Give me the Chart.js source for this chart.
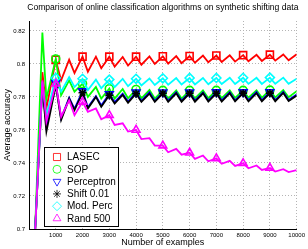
<!DOCTYPE html>
<html><head><meta charset="utf-8">
<script src="https://cdn.jsdelivr.net/npm/chart.js@4/dist/chart.umd.min.js"></script>
<style>html,body{margin:0;padding:0;background:#fff;overflow:hidden}#wrap{width:308px;height:249px}</style>
</head><body><div id="wrap"><canvas id="c" width="308" height="249"></canvas></div>
<script>
const TITLE = 'Comparison of online classification algorithms on synthetic shifting data';
const X_LABEL = 'Number of examples';
const Y_LABEL = 'Average accuracy';
const X_TICKS = [1000, 2000, 3000, 4000, 5000, 6000, 7000, 8000, 9000, 10000];
const Y_TICKS = [0.7, 0.72, 0.74, 0.76, 0.78, 0.8, 0.82];
const SERIES_NAMES = ['LASEC', 'SOP', 'Perceptron', 'Shift 0.01', 'Mod. Perc', 'Rand 500'];

const EXAMPLES = [100, 500, 650, 1000, 1200, 1500, 1700, 2000, 2200, 2500, 2700, 3000, 3200, 3500, 3700, 4000, 4200, 4500, 4700, 5000, 5200, 5500, 5700, 6000, 6200, 6500, 6700, 7000, 7200, 7500, 7700, 8000, 8200, 8500, 8700, 9000, 9200, 9500, 9700, 10000];

const LASEC = [0.654, 0.795, 0.773, 0.8025, 0.790, 0.8025, 0.7945, 0.8044, 0.7953, 0.8044, 0.7974, 0.8044, 0.7984, 0.8042, 0.7990, 0.8044, 0.7995, 0.8045, 0.8000, 0.8046, 0.8002, 0.8047, 0.8005, 0.8048, 0.8007, 0.8050, 0.8010, 0.8051, 0.8012, 0.8052, 0.8014, 0.8053, 0.8016, 0.8055, 0.8018, 0.8056, 0.8020, 0.8057, 0.8022, 0.8058];
const SOP = [0.643, 0.819, 0.779, 0.803, 0.781, 0.790, 0.7832, 0.788, 0.780, 0.786, 0.779, 0.785, 0.779, 0.7848, 0.7792, 0.7845, 0.7792, 0.7842, 0.7790, 0.7840, 0.7790, 0.7840, 0.7790, 0.7840, 0.7791, 0.7840, 0.7792, 0.7840, 0.7793, 0.7840, 0.7794, 0.7840, 0.7795, 0.7840, 0.7796, 0.7841, 0.7797, 0.7841, 0.7798, 0.7835];
const PERCEPTRON = [0.657, 0.788, 0.762, 0.7885, 0.767, 0.7795, 0.7728, 0.7835, 0.7738, 0.7805, 0.7748, 0.7818, 0.7768, 0.7820, 0.7772, 0.7828, 0.7776, 0.7828, 0.7776, 0.7828, 0.7777, 0.7828, 0.7777, 0.7828, 0.7778, 0.7828, 0.7778, 0.7829, 0.7779, 0.7829, 0.7779, 0.7829, 0.7780, 0.7830, 0.7780, 0.7830, 0.7781, 0.7830, 0.7781, 0.7815];
const SHIFT = [0.658, 0.786, 0.759, 0.787, 0.766, 0.779, 0.772, 0.7825, 0.773, 0.780, 0.774, 0.781, 0.776, 0.7812, 0.7765, 0.7820, 0.7770, 0.7820, 0.7770, 0.7822, 0.7770, 0.7822, 0.7771, 0.7822, 0.7771, 0.7822, 0.7772, 0.7822, 0.7772, 0.7823, 0.7773, 0.7823, 0.7773, 0.7823, 0.7774, 0.7823, 0.7774, 0.7824, 0.7775, 0.7808];
const MOD_PERC = [0.657, 0.789, 0.769, 0.7915, 0.7832, 0.7920, 0.786, 0.7910, 0.7842, 0.7905, 0.7853, 0.7905, 0.786, 0.7910, 0.7865, 0.7910, 0.7870, 0.7912, 0.7872, 0.7913, 0.7874, 0.7914, 0.7875, 0.7915, 0.7876, 0.7915, 0.7877, 0.7915, 0.7878, 0.7916, 0.7878, 0.7916, 0.7879, 0.7916, 0.7879, 0.7917, 0.7880, 0.7917, 0.7880, 0.7910];
const RAND500 = [0.655, 0.790, 0.765, 0.788, 0.768, 0.778, 0.769, 0.777, 0.771, 0.773, 0.7665, 0.769, 0.763, 0.764, 0.759, 0.760, 0.7545, 0.7550, 0.7505, 0.7505, 0.7465, 0.7485, 0.7450, 0.7462, 0.7425, 0.7445, 0.7410, 0.7428, 0.7395, 0.7413, 0.7382, 0.7398, 0.7368, 0.7385, 0.7358, 0.7370, 0.7348, 0.7362, 0.7345, 0.7356];

const FONT = '"Liberation Sans", Arial, Helvetica, sans-serif';
const STYLES = [
  {color: '#ff0000', point: 'rect', radius: 5, rot: 0},
  {color: '#00ff00', point: 'circle', radius: 4, rot: 0},
  {color: '#0000ff', point: 'triangle', radius: 4.5, rot: 180},
  {color: '#000000', point: 'star', radius: 4, rot: 0},
  {color: '#00ffff', point: 'rectRot', radius: 4.5, rot: 0},
  {color: '#ff00ff', point: 'triangle', radius: 4.5, rot: 0}
];
const VALUES = [LASEC, SOP, PERCEPTRON, SHIFT, MOD_PERC, RAND500];

const datasets = VALUES.map((vals, k) => ({
  label: SERIES_NAMES[k],
  data: EXAMPLES.map((x, i) => ({x: x, y: vals[i]})),
  borderColor: STYLES[k].color,
  backgroundColor: 'rgba(0,0,0,0)',
  borderWidth: 1.8,
  tension: 0,
  order: VALUES.length - k,
  pointStyle: STYLES[k].point,
  pointRotation: STYLES[k].rot,
  pointBorderColor: STYLES[k].color,
  pointBackgroundColor: 'rgba(0,0,0,0)',
  pointBorderWidth: 1.6,
  pointRadius: (ctx) => {
    const x = EXAMPLES[ctx.dataIndex];
    return (x % 1000 === 0 && x < 10000) ? STYLES[k].radius : 0;
  },
  pointHoverRadius: 0
}));

function drawMarker(ctx, st, x, y) {
  if (Chart.helpers && Chart.helpers.drawPoint) {
    ctx.save();
    ctx.strokeStyle = st.color; ctx.fillStyle = 'rgba(0,0,0,0)'; ctx.lineWidth = 0.8;
    Chart.helpers.drawPoint(ctx, {pointStyle: st.point, radius: st.radius, rotation: st.rot, borderWidth: 0.8}, x, y);
    ctx.restore();
  }
}

const overlay = {
  id: 'overlay',
  afterDraw(chart) {
    const ctx = chart.ctx, a = chart.chartArea;
    ctx.save();
    ctx.fillStyle = '#000';
    ctx.textAlign = 'center'; ctx.textBaseline = 'middle';
    ctx.font = '8.6px ' + FONT;
    ctx.fillText(TITLE, (a.left + a.right) / 2, 8);
    ctx.font = '9px ' + FONT;
    ctx.fillText(X_LABEL, (a.left + a.right) / 2, 243);
    ctx.save();
    ctx.translate(8, (a.top + a.bottom) / 2);
    ctx.rotate(-Math.PI / 2);
    ctx.fillText(Y_LABEL, 0, 0);
    ctx.restore();
    // legend
    const lx = 44, ly = 147, lw = 74, lh = 79;
    ctx.fillStyle = '#fff';
    ctx.fillRect(lx, ly, lw, lh);
    ctx.strokeStyle = '#000'; ctx.lineWidth = 1;
    ctx.strokeRect(lx + 0.5, ly + 0.5, lw, lh);
    ctx.font = '10px ' + FONT;
    ctx.textAlign = 'left';
    SERIES_NAMES.forEach((name, i) => {
      const yy = 157 + i * 12.3;
      drawMarker(ctx, STYLES[i], 57, yy);
      ctx.fillStyle = '#000';
      ctx.fillText(name, 67, yy + 0.5);
    });
    ctx.restore();
  }
};

new Chart(document.getElementById('c'), {
  type: 'line',
  data: {datasets: datasets},
  options: {
    responsive: false, animation: false, devicePixelRatio: 1,
    layout: {padding: {top: 21, right: 10, bottom: 0, left: 0}},
    plugins: {legend: {display: false}, tooltip: {enabled: false}, title: {display: false}},
    scales: {
      x: {
        type: 'linear', min: 0, max: 10000,
        afterBuildTicks: (s) => { s.ticks = X_TICKS.map(v => ({value: v})); },
        afterFit: (s) => { s.height = 20; },
        ticks: {font: {size: 6, family: FONT}, color: '#000', padding: 3, maxRotation: 0, autoSkip: false, callback: (v) => String(v)},
        grid: {color: '#b4b4b4', lineWidth: 1, drawTicks: false},
        border: {display: true, color: '#000', width: 1, dash: [1, 2]}
      },
      y: {
        type: 'linear', min: 0.7, max: 0.826,
        afterBuildTicks: (s) => { s.ticks = Y_TICKS.map(v => ({value: v})); },
        afterFit: (s) => { s.width = 29; },
        ticks: {font: {size: 6, family: FONT}, color: '#000', padding: 4, callback: (v) => String(v)},
        grid: {color: '#b4b4b4', lineWidth: 1, drawTicks: false},
        border: {display: true, color: '#000', width: 1, dash: [1, 2]}
      }
    }
  },
  plugins: [overlay]
});
</script></body></html>
